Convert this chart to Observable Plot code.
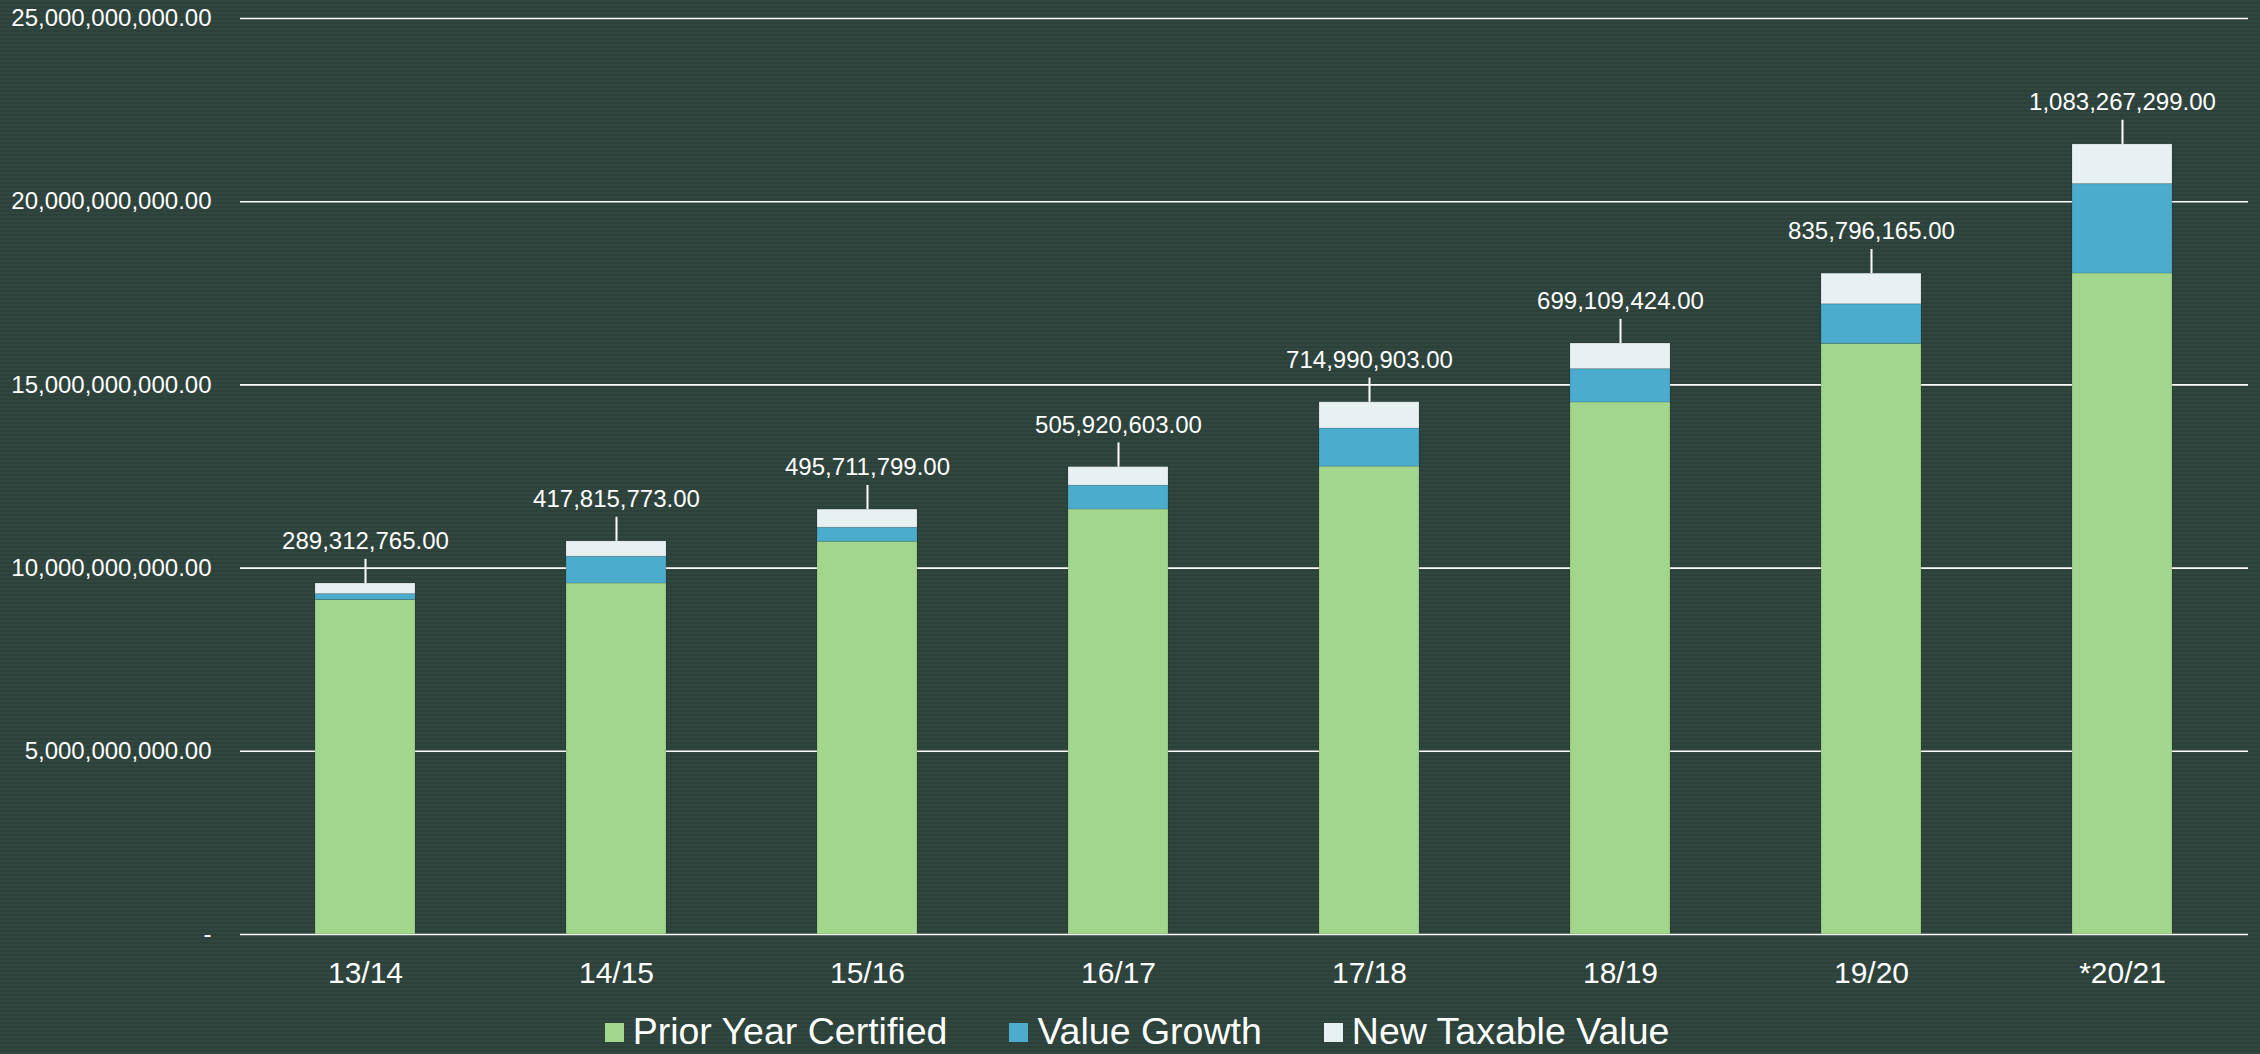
<!DOCTYPE html>
<html>
<head>
<meta charset="utf-8">
<script src="https://cdn.jsdelivr.net/npm/d3@7"></script>
<script src="https://cdn.jsdelivr.net/npm/@observablehq/plot@0.6"></script>
<style>
  html, body { margin: 0; padding: 0; }
  body {
    width: 2260px; height: 1054px; overflow: hidden;
    background: repeating-linear-gradient(to bottom, #30463f 0px, #30463f 2px, #2c413a 2px, #2c413a 4px);
    font-family: "Liberation Sans", Arial, sans-serif;
    color: #fff;
  }
  #legend {
    height: 54px; box-sizing: border-box; padding-top: 8px;
    display: flex; justify-content: center; align-items: center;
    font-size: 37.5px; padding-left: 14px;
  }
  #legend .item { display: flex; align-items: center; margin: 0 31px; }
  #legend .sw { width: 19px; height: 19px; margin-right: 9px; margin-top: 3px; }
</style>
</head>
<body>
<div id="chart"></div>
<div id="legend"></div>
<script>
const years = ["13/14","14/15","15/16","16/17","17/18","18/19","19/20","*20/21"];
const priorYearCertified = [9.13e9, 9.58e9, 10.72e9, 11.60e9, 12.77e9, 14.52e9, 16.12e9, 18.04e9];
const valueGrowth = [0.16e9, 0.73e9, 0.38e9, 0.65e9, 1.04e9, 0.91e9, 1.08e9, 2.44e9];
const newTaxableValue = [289312765, 417815773, 495711799, 505920603, 714990903, 699109424, 835796165, 1083267299];
const seriesNames = ["Prior Year Certified", "Value Growth", "New Taxable Value"];
const seriesColors = ["#a2d68c", "#4bacce", "#e8f1f2"];
const yTicks = [0, 5e9, 10e9, 15e9, 20e9, 25e9];

const seriesValues = [priorYearCertified, valueGrowth, newTaxableValue];
const rows = [];
years.forEach((yr, i) => {
  seriesNames.forEach((s, j) => rows.push({year: yr, series: s, value: seriesValues[j][i]}));
});
const totals = years.map((yr, i) => ({
  year: yr,
  total: priorYearCertified[i] + valueGrowth[i] + newTaxableValue[i],
  label: newTaxableValue[i]
}));

const fmt = d3.format(",.2f");
const leader = 0.66e9;

const chart = Plot.plot({
  width: 2260,
  height: 1000,
  marginTop: 18,
  marginBottom: 66,
  marginLeft: 240,
  marginRight: 12,
  style: {background: "transparent", color: "#fff", fontFamily: "'Liberation Sans', Arial, sans-serif"},
  x: {domain: years, paddingInner: 0.6, paddingOuter: 0.3, label: null},
  y: {domain: [0, 25e9], label: null},
  color: {domain: seriesNames, range: seriesColors},
  marks: [
    Plot.gridY(yTicks, {stroke: "#fff", strokeOpacity: 1, strokeWidth: 1.6}),
    Plot.barY(rows, Plot.stackY({x: "year", y: "value", fill: "series", order: seriesNames, stroke: "#000", strokeOpacity: 0.12, strokeWidth: 1})),
    Plot.ruleX(totals, {x: "year", y1: "total", y2: d => d.total + leader, stroke: "#fff", strokeWidth: 2}),
    Plot.text(totals, {x: "year", y: "total", text: d => fmt(d.label), dy: -42, fontSize: 24, fill: "#fff"}),
    Plot.axisY(yTicks, {tickSize: 0, tickPadding: 29, fontSize: 24, tickFormat: d => d === 0 ? "-" : fmt(d), label: null}),
    Plot.axisX({tickSize: 0, tickPadding: 27, fontSize: 30, label: null})
  ]
});
document.getElementById("chart").appendChild(chart);

const legend = document.getElementById("legend");
seriesNames.forEach((s, i) => {
  const item = document.createElement("div");
  item.className = "item";
  const sw = document.createElement("div");
  sw.className = "sw";
  sw.style.background = seriesColors[i];
  const t = document.createElement("span");
  t.textContent = s;
  item.appendChild(sw); item.appendChild(t);
  legend.appendChild(item);
});
</script>
</body>
</html>
